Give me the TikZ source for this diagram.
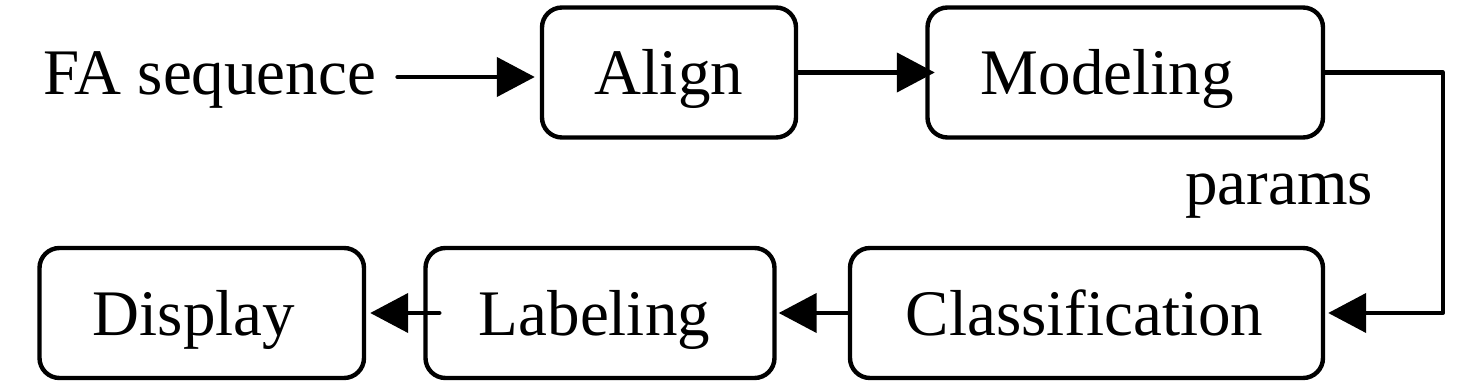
\documentclass[tikz,border=0pt]{standalone}
\usepackage{fontspec}
\setmainfont{Liberation Serif}
\usetikzlibrary{arrows.meta}
\begin{document}
\begin{tikzpicture}[x=0.5pt,y=-0.5pt,
  box/.style={draw, line width=2.2pt, rounded corners=10pt, minimum height=65pt,
    inner sep=0pt, text height=22.5pt, text depth=0pt,
    font=\fontsize{32.5}{39}\selectfont},
  lbl/.style={inner sep=0pt, text height=22.5pt, text depth=0pt,
    font=\fontsize{32.5}{39}\selectfont, anchor=base west},
  arr/.style={line width=2.2pt, line cap=round, line join=round,
    -{Triangle[length=19pt,width=19.5pt]}}]
\useasboundingbox (0,0) rectangle (1463,389);
% top row
\node[lbl] (fa) at (43,95) {FA sequence};
\node[box, minimum width=127pt] (align) at (669,72.5) {Align};
\node[box, minimum width=197.75pt] (model) at (1125.25,72.5) {\hspace*{-18pt}Modeling};
% bottom row
\node[box, minimum width=162.25pt] (display) at (201.75,313) {\hspace*{-7.75pt}Display};
\node[box, minimum width=174.5pt] (labeling) at (600,313) {\hspace*{-5.5pt}Labeling};
\node[box, minimum width=236.5pt] (class) at (1086.5,313) {\hspace*{-2pt}Classification};
% label
\node[lbl] (params) at (1185,205) {params};
% connectors
\draw[arr, shorten >=2.5pt] ([xshift=10.5pt,yshift=-2.25pt]fa.east) -- ([yshift=-2.25pt]align.west);
\draw[arr, shorten >=-4.75pt] (align.east) -- (model.west);
\draw[arr, shorten >=1.5pt] (model.east) -- ++(117.5,0) |- (class.east);
\draw[arr, shorten >=1pt] (class.west) -- (labeling.east);
\draw[arr, shorten >=2pt] ([xshift=8pt]labeling.west) -- (display.east);
\end{tikzpicture}
\end{document}
